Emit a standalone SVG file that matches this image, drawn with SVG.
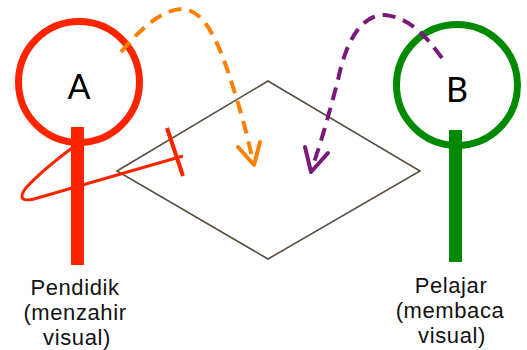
<svg xmlns="http://www.w3.org/2000/svg" width="527" height="350" viewBox="0 0 527 350">
<defs>
<style>
.lbl{font-family:"Liberation Sans",Arial,sans-serif;font-size:22px;letter-spacing:0.6px;fill:#111;text-anchor:middle}
.big{font-family:Lato,"Liberation Sans",sans-serif;font-size:34px;fill:#000;text-anchor:middle}
.dash{fill:none;stroke-width:4;stroke-dasharray:13 8}
</style>
</defs>
<rect width="527" height="350" fill="#fff"/>
<g id="canvas">
<polygon points="117,171 268,81 420,171 268,259" fill="none" stroke="#5a5040" stroke-width="1.6"/>
</g>
<g id="nodeA">
<circle cx="79" cy="82" r="60.5" fill="none" stroke="#ff2400" stroke-width="7"/>
<rect x="71" y="127" width="13" height="138" fill="#ff2400"/>
<text class="big" x="79" y="99">A</text>
<path d="M183,156 L34,199 Q16,203 25,189 Q40,172 72,148" fill="none" stroke="#ff2400" stroke-width="3"/>
<line x1="167" y1="128" x2="183" y2="176" stroke="#ff2400" stroke-width="4"/>
<text class="lbl"><tspan x="75" y="295">Pendidik</tspan><tspan x="75" y="320">(menzahir</tspan><tspan x="77" y="345">visual)</tspan></text>
</g>
<g id="nodeB">
<circle cx="457" cy="85" r="60.5" fill="none" stroke="#008a00" stroke-width="7"/>
<rect x="449" y="130" width="13" height="132" fill="#008a00"/>
<text class="big" x="457" y="102">B</text>
<text class="lbl"><tspan x="451" y="293">Pelajar</tspan><tspan x="450" y="318">(membaca</tspan><tspan x="452" y="343">visual)</tspan></text>
</g>
<g id="connectors">
<path class="dash" stroke="#ff8000" d="M121,52 C140,30 160,10 182,9 C205,9 220,45 233,87 C242,115 248,138 253,162"/>
<polyline points="238,147 254,165 260,142" fill="none" stroke="#ff8000" stroke-width="4" stroke-linecap="round" stroke-linejoin="round"/>
<path class="dash" stroke="#7a1a78" d="M442,58 C425,35 410,18 385,15 C360,14 345,45 338,80 C330,110 322,140 312,168"/>
<polyline points="305,147 311,172 328,153" fill="none" stroke="#7a1a78" stroke-width="4" stroke-linecap="round" stroke-linejoin="round"/>
</g>
</svg>
